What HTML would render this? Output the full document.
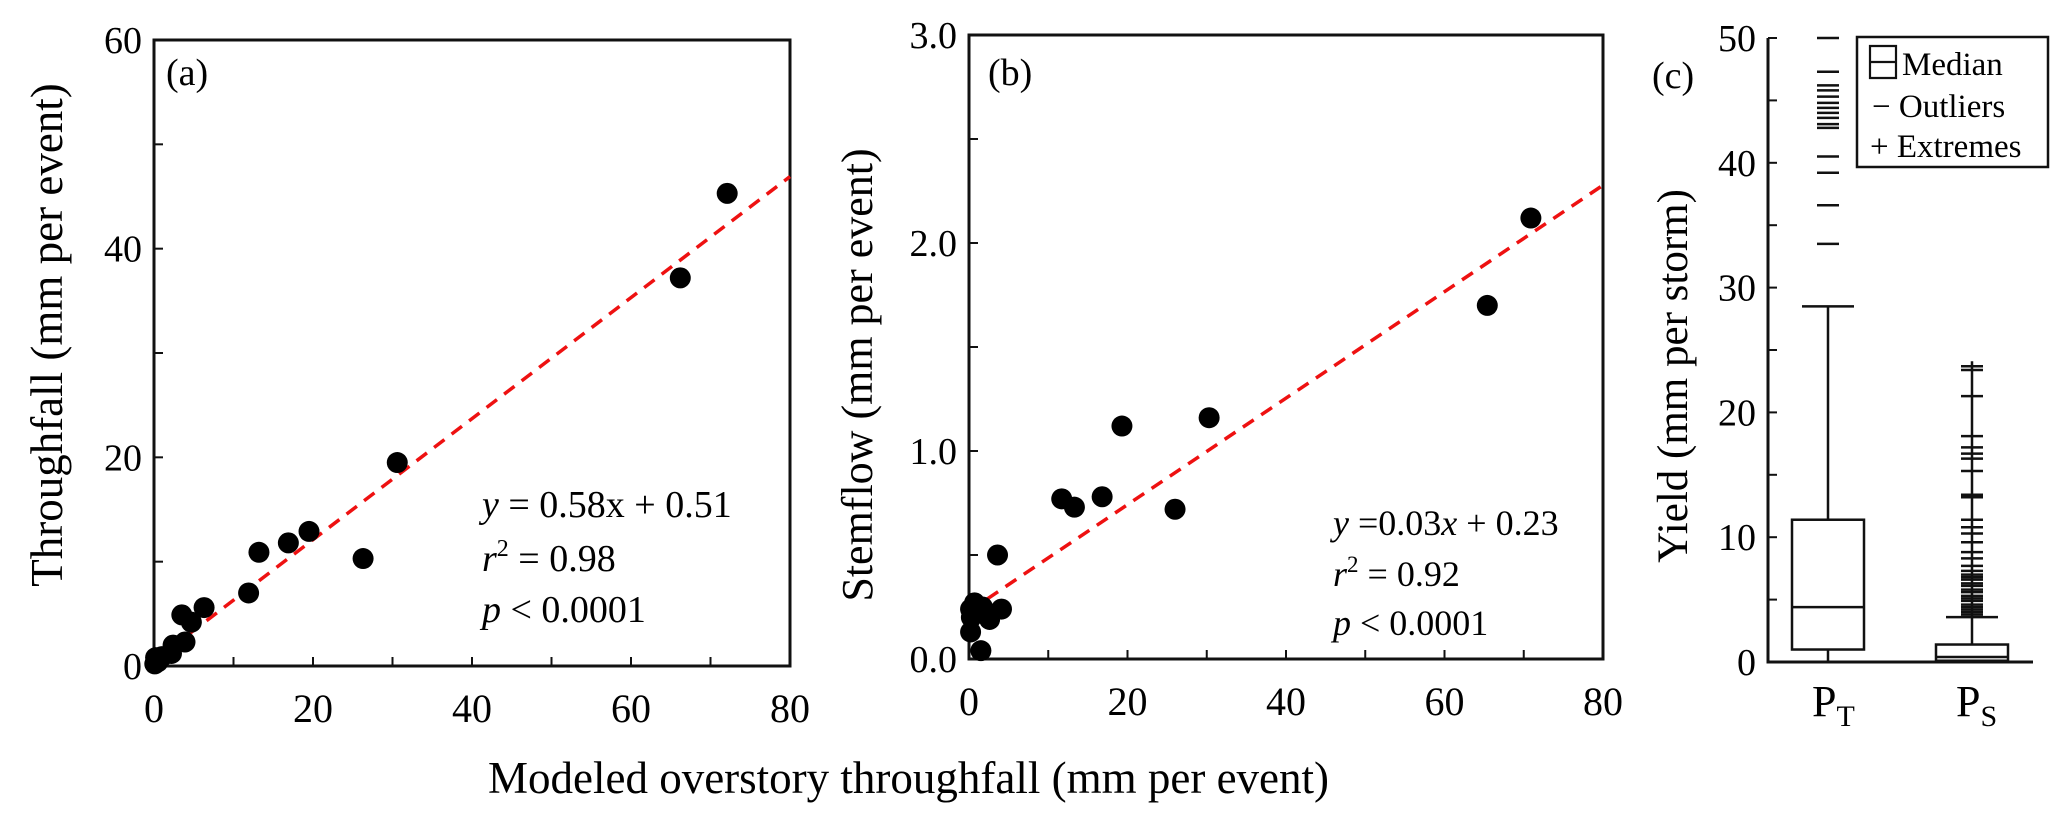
<!DOCTYPE html>
<html><head><meta charset="utf-8">
<style>
html,body{margin:0;padding:0;background:#fff;}
svg{display:block;font-family:"Liberation Serif",serif;}
</style></head>
<body>
<svg id="fig" width="2067" height="831" viewBox="0 0 2067 831" xmlns="http://www.w3.org/2000/svg">
  <g id="pa"></g>
  <g id="pb"></g>
  <g id="pc"></g>
  <text x="488" y="793" font-size="45">Modeled overstory throughfall (mm per event)</text>
</svg>
<script>
// ---- Panel (a) data ----
const aX = [72.1, 66.2, 30.6, 26.3, 19.5, 16.9, 13.2, 11.9, 6.3, 3.5, 4.7, 3.9, 2.4, 2.2, 0.3, 0.1, 0.2, 0.5, 1.0];
const aY = [45.3, 37.2, 19.5, 10.3, 12.9, 11.8, 10.9, 7.0, 5.6, 4.9, 4.2, 2.3, 2.0, 1.2, 0.7, 0.2, 0.8, 0.4, 0.9];
const aFit = [0.58, 0.51];
const aYTicks = [0, 20, 40, 60];
const aXTicks = [0, 20, 40, 60, 80];
// ---- Panel (b) data ----
const bX = [70.9, 65.4, 19.3, 30.3, 11.7, 13.3, 16.8, 26.0, 3.6, 4.1, 2.6, 0.7, 1.7, 0.2, 1.5, 0.2, 0.3];
const bY = [2.12, 1.70, 1.12, 1.16, 0.77, 0.73, 0.78, 0.72, 0.50, 0.24, 0.19, 0.27, 0.25, 0.24, 0.04, 0.13, 0.20];
const bFit = [0.0256, 0.23];
const bYTicks = [0.0, 1.0, 2.0, 3.0];
const bXTicks = [0, 20, 40, 60, 80];
// ---- Panel (c) data ----
const cCats = ["T", "S"];
const cQ1 = [1.0, 0.1];
const cMed = [4.4, 0.4];
const cQ3 = [11.4, 1.4];
const cWhiskLo = [0, 0];
const cWhiskHi = [28.5, 3.6];
const ptOutliers = [50.0, 47.3, 46.2, 45.8, 45.3, 44.8, 44.4, 44.0, 43.6, 43.1, 42.8, 40.5, 39.2, 36.6, 33.5];
const psExtremes = [23.7, 23.4, 21.3, 18.1, 17.2, 16.7, 16.3, 15.3, 13.4, 13.2, 11.4, 10.8, 10.3, 9.6, 8.8, 8.3, 7.7, 7.3, 7.0, 6.8, 6.6, 6.3, 6.1, 5.8, 5.6, 5.3, 5.1, 4.9, 4.6, 4.4, 4.2, 4.0, 3.8];
const cYTicks = [0, 10, 20, 30, 40, 50];

const NS = "http://www.w3.org/2000/svg";
function mk(parent, tag, attrs, text) {
  const e = document.createElementNS(NS, tag);
  for (const k in attrs) e.setAttribute(k, attrs[k]);
  if (text !== undefined) e.textContent = text;
  parent.appendChild(e);
  return e;
}

function scatterPanel(g, o) {
  const sx = v => o.x0 + (v - o.xmin) / (o.xmax - o.xmin) * (o.x1 - o.x0);
  const sy = v => o.y0 - (v - o.ymin) / (o.ymax - o.ymin) * (o.y0 - o.y1);
  const frame = mk(g, "rect", {x: o.x0, y: o.y1, width: o.x1 - o.x0, height: o.y0 - o.y1, fill: "none", stroke: "#111", "stroke-width": 3});
  
  
  for (let v = o.xmin; v <= o.xmax + 1e-9; v += o.xminor) {
    const t = mk(g, "line", {x1: sx(v), x2: sx(v), y1: o.y0, y2: o.y0 - 9, stroke: "#111", "stroke-width": 2});
    
    
  }
  o.xt.forEach(v => {
    const l = mk(g, "text", {x: sx(v), y: o.y0 + 56, "font-size": 40, "text-anchor": "middle"}, String(v));
    
    
  });
  for (let v = o.ymin; v <= o.ymax + 1e-9; v += o.yminor) {
    const t = mk(g, "line", {x1: o.x0, x2: o.x0 + 9, y1: sy(v), y2: sy(v), stroke: "#111", "stroke-width": 2});
    
    
  }
  o.yt.forEach(v => {
    const l = mk(g, "text", {x: o.x0 - 12, y: sy(v) + 13, "font-size": 38, "text-anchor": "end"}, o.fmt(v));
    
    
  });
  const fl = mk(g, "line", {x1: sx(o.xmin), y1: sy(o.fit[0] * o.xmin + o.fit[1]), x2: sx(o.xmax), y2: sy(o.fit[0] * o.xmax + o.fit[1]), stroke: "#ee1111", "stroke-width": 3.5, "stroke-dasharray": "13 9"});
  
  
  o.xs.forEach((v, i) => {
    const c = mk(g, "circle", {cx: sx(v), cy: sy(o.ys[i]), r: 10.5, fill: "#000"});
    
    
  });
  const pl = mk(g, "text", {x: o.lx, y: 85, "font-size": 38}, o.label);
  
  
  const yt = mk(g, "text", {x: 0, y: 0, "font-size": o.ytsize, "text-anchor": "middle", transform: `translate(${o.ytx},${o.yty}) rotate(-90)`}, o.ytitle);
  
  
}

scatterPanel(document.getElementById("pa"), {
  x0: 154, x1: 790, y0: 666, y1: 40, xmin: 0, xmax: 80, ymin: 0, ymax: 60, xminor: 10, yminor: 10,
  xt: aXTicks, yt: aYTicks, fmt: v => String(v), fit: aFit, xs: aX, ys: aY,
  label: "(a)", lx: 166, ytitle: "Throughfall (mm per event)", ytx: 62, yty: 335, ytsize: 45
});
scatterPanel(document.getElementById("pb"), {
  x0: 969, x1: 1603, y0: 659, y1: 35, xmin: 0, xmax: 80, ymin: 0, ymax: 3, xminor: 10, yminor: 0.5,
  xt: bXTicks, yt: bYTicks, fmt: v => v.toFixed(1), fit: bFit, xs: bX, ys: bY,
  label: "(b)", lx: 988, ytitle: "Stemflow (mm per event)", ytx: 872, yty: 375, ytsize: 44
});

(function () {
  const pa = document.getElementById("pa");
  const e1 = mk(pa, "text", {x: 482, y: 517, "font-size": 38});
  e1.innerHTML = '<tspan font-style="italic">y</tspan> = 0.58x + 0.51';
  
  
  const e2 = mk(pa, "text", {x: 482, y: 571, "font-size": 38});
  e2.innerHTML = '<tspan font-style="italic">r</tspan><tspan font-size="24" dy="-15">2</tspan><tspan dy="15"> = 0.98</tspan>';
  
  
  const e3 = mk(pa, "text", {x: 482, y: 622, "font-size": 38});
  e3.innerHTML = '<tspan font-style="italic">p</tspan> &lt; 0.0001';
  
  
  const pb = document.getElementById("pb");
  const f1 = mk(pb, "text", {x: 1333, y: 535, "font-size": 36});
  f1.innerHTML = '<tspan font-style="italic">y</tspan> =0.03<tspan font-style="italic">x</tspan> + 0.23';
  
  
  const f2 = mk(pb, "text", {x: 1333, y: 586, "font-size": 36});
  f2.innerHTML = '<tspan font-style="italic">r</tspan><tspan font-size="23" dy="-14">2</tspan><tspan dy="14"> = 0.92</tspan>';
  
  
  const f3 = mk(pb, "text", {x: 1333, y: 635, "font-size": 36});
  f3.innerHTML = '<tspan font-style="italic">p</tspan> &lt; 0.0001';
  
  
})();

(function () {
  const g = document.getElementById("pc");
  const x0 = 1768, x1 = 2033, y0 = 662, y1 = 38;
  const sy = v => y0 - v / 50 * (y0 - y1);
  const cx = i => [1828, 1972][i];
  const ax = mk(g, "path", {d: `M${x0},${y1} V${y0} H${x1}`, fill: "none", stroke: "#111", "stroke-width": 3});
  
  
  for (let v = 0; v <= 50; v += 5) {
    const t = mk(g, "line", {x1: x0, x2: x0 + 9, y1: sy(v), y2: sy(v), stroke: "#111", "stroke-width": 2});
    
    
  }
  cYTicks.forEach(v => {
    const l = mk(g, "text", {x: x0 - 12, y: sy(v) + 13, "font-size": 38, "text-anchor": "end"}, String(v));
    
    
  });
  const yt = mk(g, "text", {x: 0, y: 0, "font-size": 43, "text-anchor": "middle", transform: "translate(1687,376) rotate(-90)"}, "Yield (mm per storm)");
  
  
  const pl = mk(g, "text", {x: 1652, y: 88, "font-size": 38}, "(c)");
  
  

  const st = {stroke: "#111", "stroke-width": 2.5, fill: "none"};
  cCats.forEach((c, i) => {
    const x = cx(i), hw = 36, cw = 26;
    const wl = mk(g, "line", Object.assign({x1: x, x2: x, y1: sy(cWhiskHi[i]), y2: sy(cQ3[i])}, st));
    
    
    const wl2 = mk(g, "line", Object.assign({x1: x, x2: x, y1: sy(cQ1[i]), y2: sy(cWhiskLo[i])}, st));
    
    
    const cap = mk(g, "line", Object.assign({x1: x - cw, x2: x + cw, y1: sy(cWhiskHi[i]), y2: sy(cWhiskHi[i])}, st));
    
    
    const cap2 = mk(g, "line", Object.assign({x1: x - cw, x2: x + cw, y1: sy(cWhiskLo[i]), y2: sy(cWhiskLo[i])}, st));
    
    
    const box = mk(g, "rect", Object.assign({x: x - hw, y: sy(cQ3[i]), width: hw * 2, height: sy(cQ1[i]) - sy(cQ3[i])}, st, {fill: "#fff"}));
    
    
    const md = mk(g, "line", Object.assign({x1: x - hw, x2: x + hw, y1: sy(cMed[i]), y2: sy(cMed[i])}, st));
    
    
    const lab = mk(g, "text", {x: x - 16, y: 716, "font-size": 44});
    lab.innerHTML = 'P<tspan font-size="30" dy="10">' + c + '</tspan>';
    
    
  });
  ptOutliers.forEach(v => {
    const o = mk(g, "line", {x1: cx(0) - 11, x2: cx(0) + 11, y1: sy(v), y2: sy(v), stroke: "#111", "stroke-width": 2.5});
    
    
  });
  const vx = cx(1);
  const vl = mk(g, "line", {x1: vx, x2: vx, y1: sy(Math.max(...psExtremes)) - 5, y2: sy(cWhiskHi[1]), stroke: "#111", "stroke-width": 2.5});
  
  
  psExtremes.forEach(v => {
    const o = mk(g, "line", {x1: vx - 11, x2: vx + 11, y1: sy(v), y2: sy(v), stroke: "#111", "stroke-width": 2.5});
    
    
  });
  const lg = mk(g, "g", {});
  
  
  const lb = mk(lg, "rect", {x: 1857, y: 37, width: 191, height: 130, fill: "#fff", stroke: "#111", "stroke-width": 2.5});
  
  
  const li = mk(lg, "path", {d: "M1870,46 h26 v32 h-26 z M1870,62 h26", fill: "none", stroke: "#111", "stroke-width": 2.2});
  
  
  const t1 = mk(lg, "text", {x: 1902, y: 75, "font-size": 33}, "Median");
  
  
  const t2 = mk(lg, "text", {x: 1872, y: 117, "font-size": 33}, "\u2212 Outliers");
  
  
  const t3 = mk(lg, "text", {x: 1870, y: 157, "font-size": 33}, "+ Extremes");
  
  
})();
</script>
</body></html>
